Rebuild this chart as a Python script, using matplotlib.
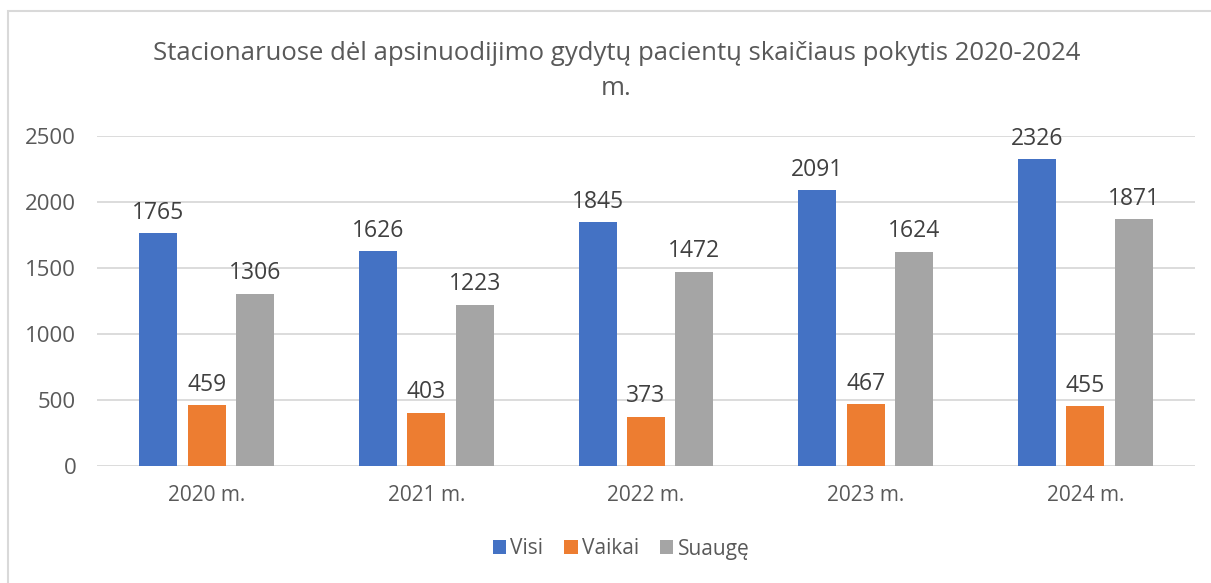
import numpy as np
from matplotlib import pyplot as plt
from matplotlib.patches import Rectangle

years = ["2020 m.", "2021 m.", "2022 m.", "2023 m.", "2024 m."]
visi = [1765, 1626, 1845, 2091, 2326]
vaikai = [459, 403, 373, 467, 455]
suauge = [1306, 1223, 1472, 1624, 1871]
series_names = ["Visi", "Vaikai", "Suaugę"]
colors = ["#4472C4", "#ED7D31", "#A5A5A5"]
text_color = "#595959"

plt.rcParams["font.family"] = ["Open Sans", "DejaVu Sans"]

fig = plt.figure(figsize=(12.11, 5.83), dpi=100)
ax = fig.add_axes([97 / 1211, 0.2007, 1098 / 1211, 0.566])

x = np.arange(len(years))
width = 0.173
step = 0.22
for i, (vals, name, col) in enumerate(zip([visi, vaikai, suauge], series_names, colors)):
    pos = x + (i - 1) * step
    bars = ax.bar(pos, vals, width, color=col, label=name, zorder=3)
    for b, v in zip(bars, vals):
        ax.annotate(str(v), (b.get_x() + b.get_width() / 2, v), xytext=(0, 6),
                    textcoords="offset points", ha="center", va="bottom",
                    fontsize=16.5, color="#404040")

ax.set_ylim(0, 2500)
ax.set_xlim(-0.5, len(years) - 0.5)
ax.set_yticks(range(0, 2501, 500))
ax.set_xticks(x)
ax.set_xticklabels(years)
ax.yaxis.grid(True, color="#D9D9D9", linewidth=1.3, zorder=0)
for s in ax.spines.values():
    s.set_visible(False)
ax.tick_params(axis="y", length=0, labelsize=16, colors=text_color, pad=15)
ax.tick_params(axis="x", length=0, labelsize=15, colors=text_color, pad=14)

fig.text(0.509, 0.878, "Stacionaruose dėl apsinuodijimo gydytų pacientų skaičiaus pokytis 2020-2024\nm.",
         ha="center", va="center", fontsize=18.5, color=text_color, linespacing=1.5)

ax.legend(loc="center", bbox_to_anchor=(621 / 1211, 1 - 549 / 583), bbox_transform=fig.transFigure,
          ncol=3, frameon=False, fontsize=15, labelcolor=text_color,
          handlelength=0.65, handleheight=0.65, handletextpad=0.2, columnspacing=1.0)

fig.patches.append(Rectangle((8 / 1211, -0.05), 1.0, 1 - 11 / 583 + 0.05,
                             transform=fig.transFigure, fill=False,
                             edgecolor="#D9D9D9", linewidth=1.5))

fig.savefig("out.png", dpi=100)
